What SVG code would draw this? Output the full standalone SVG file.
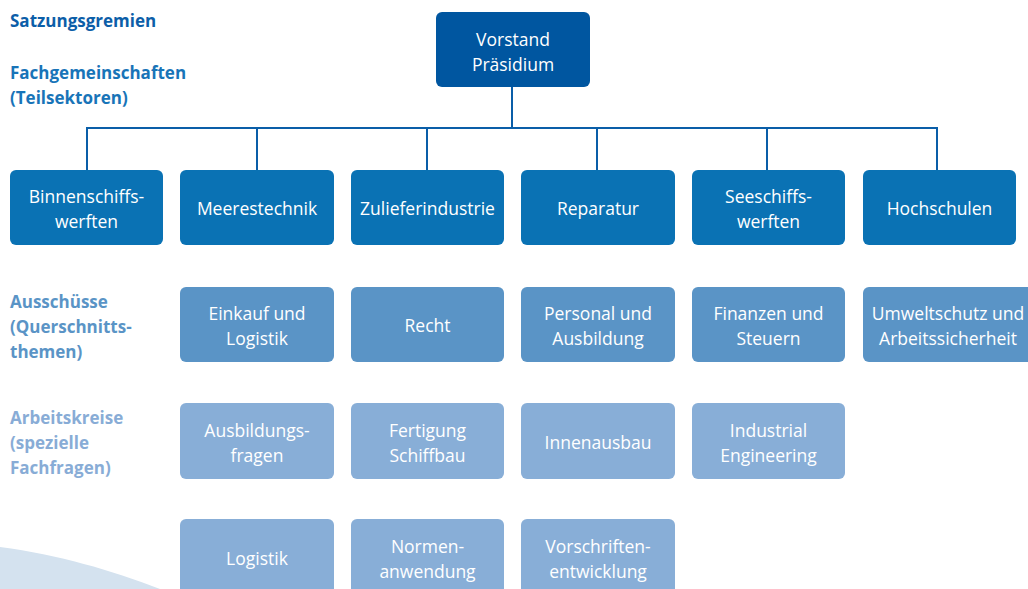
<svg xmlns="http://www.w3.org/2000/svg" width="1028" height="589" viewBox="0 0 1028 589">
<style>
.t{font-family:"Open Sans","DejaVu Sans",sans-serif;font-size:17.5px;fill:#fff;text-anchor:middle}
.l{font-family:"Open Sans","DejaVu Sans",sans-serif;font-size:17px;font-weight:bold}
.c0{fill:#0056a0}.c1{fill:#0a72b4}.c2{fill:#5a94c6}.c3{fill:#88aed7}
.conn{stroke:#0a5ea8;stroke-width:2;fill:none}
</style>
<rect width="1028" height="589" fill="#fff"/>
<path d="M0,547 C60,555 110,570 160,589 L0,589 Z" fill="#d4e2ef"/>
<g id="labels">
<text class="l" x="10" y="27" fill="#0c5ea8">Satzungsgremien</text>
<text class="l" fill="#1874b8"><tspan x="10" y="79">Fachgemeinschaften</tspan><tspan x="10" y="104">(Teilsektoren)</tspan></text>
<text class="l" fill="#5a94c6"><tspan x="10" y="308">Ausschüsse</tspan><tspan x="10" y="333">(Querschnitts-</tspan><tspan x="10" y="358">themen)</tspan></text>
<text class="l" fill="#88acd6"><tspan x="10" y="424">Arbeitskreise</tspan><tspan x="10" y="449">(spezielle</tspan><tspan x="10" y="474">Fachfragen)</tspan></text>
</g>
<g id="connectors">
<path class="conn" d="M512,87 V128 M86,128 H938 M87,127 V170 M257,127 V170 M427,127 V170 M597,127 V170 M767,127 V170 M937,127 V170"/>
</g>
<g id="vorstand"><rect class="c0" x="436" y="12" width="154" height="75" rx="6"/><text class="t"><tspan x="513" y="46">Vorstand</tspan><tspan x="513" y="71">Präsidium</tspan></text></g>
<g id="binnen"><rect class="c1" x="10" y="170" width="153" height="75" rx="6"/><text class="t"><tspan x="86.5" y="203">Binnenschiffs-</tspan><tspan x="86.5" y="228">werften</tspan></text></g>
<g id="meeres"><rect class="c1" x="180" y="170" width="154" height="75" rx="6"/><text class="t" x="257" y="215">Meerestechnik</text></g>
<g id="zuliefer"><rect class="c1" x="351" y="170" width="153" height="75" rx="6"/><text class="t" x="427.5" y="215">Zulieferindustrie</text></g>
<g id="reparatur"><rect class="c1" x="521" y="170" width="154" height="75" rx="6"/><text class="t" x="598" y="215">Reparatur</text></g>
<g id="seeschiffs"><rect class="c1" x="692" y="170" width="153" height="75" rx="6"/><text class="t"><tspan x="768.5" y="203">Seeschiffs-</tspan><tspan x="768.5" y="228">werften</tspan></text></g>
<g id="hochschulen"><rect class="c1" x="863" y="170" width="153" height="75" rx="6"/><text class="t" x="939.5" y="215">Hochschulen</text></g>
<g id="einkauf"><rect class="c2" x="180" y="287" width="154" height="75" rx="6"/><text class="t"><tspan x="257" y="320">Einkauf und</tspan><tspan x="257" y="345">Logistik</tspan></text></g>
<g id="recht"><rect class="c2" x="351" y="287" width="153" height="75" rx="6"/><text class="t" x="427.5" y="332">Recht</text></g>
<g id="personal"><rect class="c2" x="521" y="287" width="154" height="75" rx="6"/><text class="t"><tspan x="598" y="320">Personal und</tspan><tspan x="598" y="345">Ausbildung</tspan></text></g>
<g id="finanzen"><rect class="c2" x="692" y="287" width="153" height="75" rx="6"/><text class="t"><tspan x="768.5" y="320">Finanzen und</tspan><tspan x="768.5" y="345">Steuern</tspan></text></g>
<g id="umwelt"><rect class="c2" x="863" y="287" width="175" height="75" rx="6"/><text class="t"><tspan x="948" y="320">Umweltschutz und</tspan><tspan x="948" y="345">Arbeitssicherheit</tspan></text></g>
<g id="ausbildungsfragen"><rect class="c3" x="180" y="403" width="154" height="76" rx="6"/><text class="t"><tspan x="257" y="437">Ausbildungs-</tspan><tspan x="257" y="462">fragen</tspan></text></g>
<g id="fertigung"><rect class="c3" x="351" y="403" width="153" height="76" rx="6"/><text class="t"><tspan x="427.5" y="437">Fertigung</tspan><tspan x="427.5" y="462">Schiffbau</tspan></text></g>
<g id="innenausbau"><rect class="c3" x="521" y="403" width="154" height="76" rx="6"/><text class="t" x="598" y="449">Innenausbau</text></g>
<g id="industrial"><rect class="c3" x="692" y="403" width="153" height="76" rx="6"/><text class="t"><tspan x="768.5" y="437">Industrial</tspan><tspan x="768.5" y="462">Engineering</tspan></text></g>
<g id="logistik"><rect class="c3" x="180" y="519" width="154" height="80" rx="6"/><text class="t" x="257" y="565">Logistik</text></g>
<g id="normen"><rect class="c3" x="351" y="519" width="153" height="80" rx="6"/><text class="t"><tspan x="427.5" y="553">Normen-</tspan><tspan x="427.5" y="578">anwendung</tspan></text></g>
<g id="vorschriften"><rect class="c3" x="521" y="519" width="154" height="80" rx="6"/><text class="t"><tspan x="598" y="553">Vorschriften-</tspan><tspan x="598" y="578">entwicklung</tspan></text></g>
</svg>
